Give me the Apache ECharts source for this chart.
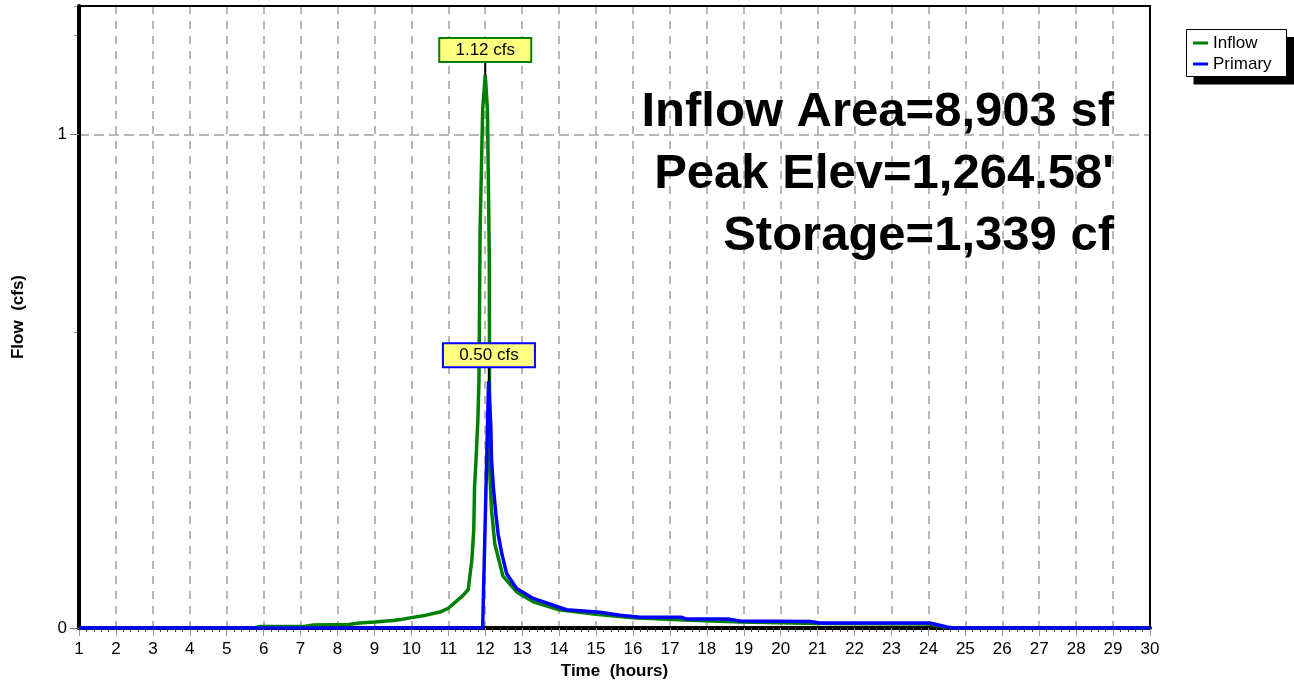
<!DOCTYPE html>
<html><head><meta charset="utf-8">
<script src="https://cdn.jsdelivr.net/npm/echarts@6/dist/echarts.min.js"></script>
<style>html,body{margin:0;padding:0;background:#fff}#chart{width:1294px;height:686px}</style>
</head><body><div id="chart"></div>
<script>
// ---- data (hours, cfs) ----
const inflowTime = [1, 5.75, 5.9, 7.1, 7.35, 8.3, 8.6, 9.0, 9.5, 9.7, 10.0, 10.4, 10.8, 11.0, 11.23, 11.4, 11.54, 11.64, 11.69, 11.71, 11.75, 11.8, 11.83, 11.86, 11.93, 12.0, 12.06, 12.11, 12.12, 12.17, 12.26, 12.48, 12.85, 13.3, 14.0, 15.0, 16.0, 17.4, 18.9, 21.0, 24.0, 24.5, 25, 30];
const inflowFlow = [0, 0, 0.003, 0.003, 0.006, 0.007, 0.01, 0.012, 0.015, 0.017, 0.021, 0.026, 0.033, 0.04, 0.055, 0.066, 0.078, 0.14, 0.2, 0.285, 0.34, 0.42, 0.5, 0.8, 1.05, 1.12, 1.05, 0.75, 0.32, 0.24, 0.17, 0.105, 0.073, 0.053, 0.037, 0.028, 0.021, 0.016, 0.012, 0.009, 0.008, 0.001, 0, 0];
const primaryTime = [1, 11.93, 12.09, 12.15, 12.17, 12.22, 12.29, 12.35, 12.45, 12.58, 12.85, 13.3, 14.0, 14.2, 15.1, 15.65, 16.2, 17.3, 17.46, 18.6, 18.9, 20.8, 21.07, 24.04, 24.5, 24.7, 30];
const primaryFlow = [0, 0, 0.50, 0.41, 0.34, 0.285, 0.23, 0.19, 0.15, 0.11, 0.08, 0.06, 0.042, 0.037, 0.032, 0.026, 0.022, 0.022, 0.018, 0.018, 0.014, 0.013, 0.01, 0.01, 0.002, 0, 0];
const seriesNames = ['Inflow', 'Primary'];
const inflowPeak = [12.0, 1.12];
const primaryPeak = [12.1, 0.50];
const xMin = 1, xMax = 30, xStep = 1;
const yMin = 0, yMax = 1.26, yStep = 1, yMinorStep = 0.6;
const xTitle = 'Time  (hours)';
const yTitle = 'Flow  (cfs)';
const annotations = ['Inflow Area=8,903 sf', "Peak Elev=1,264.58'", 'Storage=1,339 cf'];

const FONT = 'Liberation Sans, Arial, Helvetica, sans-serif';
const zip = (a, b) => a.map((v, i) => [v, b[i]]);

function peakMark(coord, border, stem) {
  return {
    symbol: 'rect', symbolSize: [2, stem], symbolOffset: [0, -stem / 2],
    itemStyle: { color: '#000' },
    label: {
      show: true, position: 'top', distance: 0,
      formatter: coord[1].toFixed(2) + ' cfs',
      color: '#000', fontFamily: FONT, fontSize: 17,
      backgroundColor: '#ffff80', borderColor: border, borderWidth: 2,
      width: 88, height: 22, lineHeight: 22, align: 'center', padding: [0, 1]
    },
    data: [{ coord: coord }]
  };
}

const frameAxis = {
  axisLine: { show: true, onZero: false, lineStyle: { color: '#000', width: 2 } },
  axisTick: { show: false }, axisLabel: { show: false }, splitLine: { show: false }
};

const chart = echarts.init(document.getElementById('chart'), null, { renderer: 'canvas' });
chart.setOption({
  animation: false,
  backgroundColor: '#fff',
  textStyle: { fontFamily: FONT },
  grid: { left: 79, right: 144, top: 6, bottom: 58, show: false, containLabel: false, outerBoundsMode: 'none' },
  legend: {
    orient: 'vertical', left: 1186, top: 29, z: 20,
    data: seriesNames,
    icon: 'rect', itemWidth: 15, itemHeight: 3, itemGap: 1,
    padding: [4, 8, 3, 7],
    textStyle: { fontFamily: FONT, fontSize: 17, color: '#000', lineHeight: 20 }
  },
  xAxis: [{
    type: 'value', min: xMin, max: xMax, interval: xStep,
    name: xTitle, nameLocation: 'middle', nameGap: 32,
    nameTextStyle: { fontFamily: FONT, fontSize: 17, fontWeight: 'bold', color: '#000' },
    axisLine: { show: true, onZero: false, lineStyle: { color: '#000', width: 4 } },
    axisTick: { show: true, length: 8, lineStyle: { color: '#999', width: 1 } },
    minorTick: { show: true, splitNumber: 5, length: 4, lineStyle: { color: '#444', width: 1 } },
    axisLabel: { margin: 13, fontFamily: FONT, fontSize: 17, color: '#000', showMinLabel: true, showMaxLabel: true },
    splitLine: { show: true, lineStyle: { color: '#a0a0a0', width: 1.5, type: [8, 7] } },
    z: 2
  }, Object.assign({ type: 'value', min: xMin, max: xMax, position: 'top', z: 3 }, frameAxis)],
  yAxis: [{
    type: 'value', min: yMin, max: yMax, interval: yStep,
    name: yTitle, nameLocation: 'middle', nameGap: 52,
    nameTextStyle: { fontFamily: FONT, fontSize: 17, fontWeight: 'bold', color: '#000' },
    axisLine: { show: true, onZero: false, lineStyle: { color: '#000', width: 4 } },
    axisTick: { show: true, length: 9, lineStyle: { color: '#777', width: 1 } },
    axisLabel: { margin: 12, fontFamily: FONT, fontSize: 17, color: '#000', showMaxLabel: false },
    splitLine: { show: true, lineStyle: { color: '#a0a0a0', width: 1.5, type: [10, 5] } },
    z: 2
  }, {
    type: 'value', min: yMin, max: yMax, interval: yMinorStep, position: 'left', offset: 0,
    axisLine: { show: false }, axisLabel: { show: false }, splitLine: { show: false },
    axisTick: { show: true, length: 5, lineStyle: { color: '#888', width: 1 } }
  }, Object.assign({ type: 'value', min: yMin, max: yMax, position: 'right', offset: 0, z: 3 }, frameAxis)],
  graphic: [
    { type: 'rect', z: 5, shape: { x: 1193.5, y: 37, width: 100.5, height: 47.5 }, style: { fill: '#000' } },
    { type: 'rect', z: 6, shape: { x: 1186.5, y: 29.5, width: 100, height: 47 }, style: { fill: '#fff', stroke: '#000', lineWidth: 1 } }
  ].concat(annotations.map((t, i) => ({
    type: 'text', x: 1114, y: 112.6 + i * 62, z: 10,
    style: { text: t, align: 'right', verticalAlign: 'middle', fill: '#000',
             font: 'bold 49px ' + FONT }
  }))),
  series: [
    { name: seriesNames[0], type: 'line', data: zip(inflowTime, inflowFlow), showSymbol: false, symbol: 'none',
      lineStyle: { color: '#008000', width: 3.5 }, itemStyle: { color: '#008000' },
      markPoint: peakMark(inflowPeak, '#008000', 14), z: 3 },
    { name: seriesNames[1], type: 'line', data: zip(primaryTime, primaryFlow), showSymbol: false, symbol: 'none',
      lineStyle: { color: '#0000ff', width: 3.5 }, itemStyle: { color: '#0000ff' },
      markPoint: peakMark(primaryPeak, '#0000ff', 15), z: 4 }
  ]
});
</script></body></html>
